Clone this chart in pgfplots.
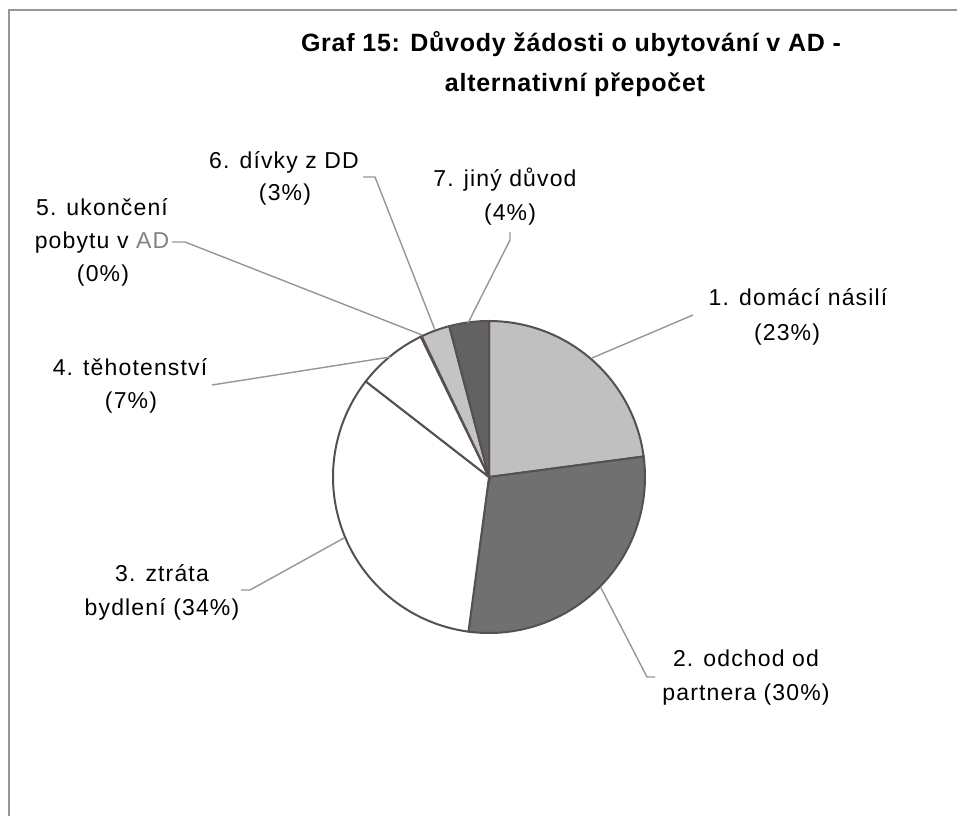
\documentclass[border=0pt]{standalone}
\usepackage{pgfplots}
\pgfplotsset{compat=1.18}
\usepackage{fontspec}
\setmainfont{Liberation Sans}
\newfontfamily\labfont[LetterSpace=5]{Liberation Sans}
\newfontfamily\titfont[LetterSpace=3]{Liberation Sans}
\definecolor{sA}{RGB}{192,192,192}
\definecolor{sB}{RGB}{112,112,112}
\definecolor{sF}{RGB}{196,196,196}
\definecolor{sG}{RGB}{98,98,98}
\definecolor{edge}{RGB}{88,80,80}
\definecolor{lead}{RGB}{150,150,150}
\definecolor{frame}{RGB}{150,150,150}
\definecolor{adgray}{RGB}{130,130,130}
\begin{document}%
\begin{tikzpicture}
% shares of the slices (per cent)
\def\pA{22.9}\def\pB{29.2}\def\pC{33.4}\def\pD{7.3}\def\pE{0.1}\def\pF{3.0}\def\pG{4.1}
\pgfmathsetmacro{\aO}{90}
\pgfmathsetmacro{\aA}{\aO-3.6*\pA}
\pgfmathsetmacro{\aB}{\aA-3.6*\pB}
\pgfmathsetmacro{\aC}{\aB-3.6*\pC}
\pgfmathsetmacro{\aD}{\aC-3.6*\pD}
\pgfmathsetmacro{\aE}{\aD-3.6*\pE}
\pgfmathsetmacro{\aF}{\aE-3.6*\pF}
\pgfmathsetmacro{\aG}{\aF-3.6*\pG}
\begin{axis}[scale only axis, width=478.5pt, height=408pt,
  xmin=-489, xmax=468, ymin=-339, ymax=477,
  axis lines=none, ticks=none, clip=false]
% frame
\addplot[frame, line width=1pt] coordinates {(-480,-339) (-480,467) (468,467)};
% slices
\addplot[draw=edge, line width=1pt, fill=sA, data cs=polar, domain=\aA:\aO, samples=60] ({x},{156}) -- (axis cs:0,0) -- cycle;
\addplot[draw=edge, line width=1pt, fill=sB, data cs=polar, domain=\aB:\aA, samples=60] ({x},{156}) -- (axis cs:0,0) -- cycle;
\addplot[draw=edge, line width=1pt, fill=white, data cs=polar, domain=\aC:\aB, samples=60] ({x},{156}) -- (axis cs:0,0) -- cycle;
\addplot[draw=edge, line width=1pt, fill=white, data cs=polar, domain=\aD:\aC, samples=20] ({x},{156}) -- (axis cs:0,0) -- cycle;
\addplot[draw=edge, line width=1pt, fill=white, data cs=polar, domain=\aE:\aD, samples=2] ({x},{156}) -- (axis cs:0,0) -- cycle;
\addplot[draw=edge, line width=1pt, fill=sF, data cs=polar, domain=\aF:\aE, samples=10] ({x},{156}) -- (axis cs:0,0) -- cycle;
\addplot[draw=edge, line width=1pt, fill=sG, data cs=polar, domain=\aG:\aF, samples=10] ({x},{156}) -- (axis cs:0,0) -- cycle;
% leader lines
\addplot[lead, line width=0.7pt] coordinates {(103,119) (204,162)};
\addplot[lead, line width=0.7pt] coordinates {(112,-111) (158,-200) (166,-200)};
\addplot[lead, line width=0.7pt] coordinates {(-145,-61) (-239,-113) (-248,-113)};
\addplot[lead, line width=0.7pt] coordinates {(-99,120) (-277,92)};
\addplot[lead, line width=0.7pt] coordinates {(-67,142) (-304,235) (-317,235)};
\addplot[lead, line width=0.7pt] coordinates {(-54,147) (-114,300) (-126,300)};
\addplot[lead, line width=0.7pt] coordinates {(-21,154) (21,237) (21,245)};
% title
\node[anchor=base, font=\titfont\fontsize{12.5}{15}\selectfont\bfseries] at (axis cs:82,425) {Graf 15: Důvody žádosti o ubytování v AD -};
\node[anchor=base, font=\titfont\fontsize{12.5}{15}\selectfont\bfseries] at (axis cs:86,386) {alternativní přepočet};
% labels
\tikzset{lab/.style={anchor=base, font=\labfont\fontsize{11.5}{14}\selectfont}}
\node[lab] at (axis cs:309,172) {1. domácí násilí};
\node[lab] at (axis cs:298,137) {(23\%)};
\node[lab] at (axis cs:257,-189) {2. odchod od};
\node[lab] at (axis cs:257,-223) {partnera (30\%)};
\node[lab] at (axis cs:-327,-104) {3. ztráta};
\node[lab] at (axis cs:-327,-138) {bydlení (34\%)};
\node[lab] at (axis cs:-359,102) {4. těhotenství};
\node[lab] at (axis cs:-358,69) {(7\%)};
\node[lab] at (axis cs:-387,262) {5. ukončení};
\node[lab] at (axis cs:-387,229) {pobytu v {\color{adgray}AD}};
\node[lab] at (axis cs:-386,196) {(0\%)};
\node[lab] at (axis cs:-205,309) {6. dívky z DD};
\node[lab] at (axis cs:-204,277) {(3\%)};
\node[lab] at (axis cs:16,291) {7. jiný důvod};
\node[lab] at (axis cs:21,257) {(4\%)};
\coordinate (BL) at (axis cs:-489,-339);
\coordinate (TR) at (axis cs:468,477);
\end{axis}
\pgfresetboundingbox
\path (BL) rectangle (TR);
\end{tikzpicture}%
\end{document}
